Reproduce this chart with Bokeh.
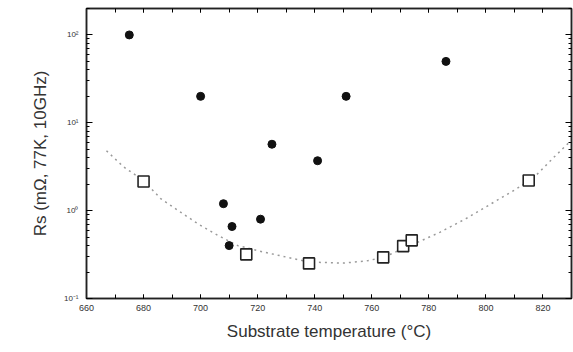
from bokeh.plotting import figure
from bokeh.models import Range1d, LinearAxis, LogAxis, SingleIntervalTicker, LogTicker
from bokeh.embed import file_html
from bokeh.resources import INLINE

# filled circles
dot_temp = [675, 700, 725, 741, 751, 786, 708, 711, 721, 710]
dot_rs = [100, 20, 5.7, 3.7, 20, 50, 1.2, 0.66, 0.80, 0.40]

# open squares
sq_temp = [680, 716, 738, 764, 771, 774, 815]
sq_rs = [2.15, 0.318, 0.251, 0.294, 0.395, 0.459, 2.2]

# dotted guide curve
curve_temp = [667, 673, 680, 686, 692, 699, 706, 713, 722, 738, 750, 758, 764,
              775, 784, 793, 803, 810, 817, 824, 830]
curve_rs = [4.8, 3.15, 2.2, 1.37, 1.01, 0.71, 0.525, 0.40, 0.338, 0.26, 0.253,
            0.267, 0.294, 0.42, 0.57, 0.81, 1.26, 1.71, 2.42, 4.1, 6.35]

x_ticks = [660, 680, 700, 720, 740, 760, 780, 800, 820]
y_ticks = [0.1, 1, 10, 100]
y_tick_labels = {0.1: "10\u207b\u00b9", 1: "10\u2070", 10: "10\u00b9", 100: "10\u00b2"}

TXT = "#333333"
FONT = "Liberation Sans"

p = figure(width=573, height=352, output_backend="svg", toolbar_location=None,
           x_range=Range1d(660, 830), y_range=Range1d(0.1, 200), y_axis_type="log",
           min_border_left=86, min_border_right=2, min_border_top=8, min_border_bottom=54)
p.xgrid.visible = False
p.ygrid.visible = False
p.outline_line_color = "#222222"
p.outline_line_width = 1.5
p.background_fill_color = "white"
p.border_fill_color = "white"

p.line(curve_temp, curve_rs, line_color="#9a9a9a", line_width=1.5, line_dash="2 4")
p.scatter(sq_temp, sq_rs, marker="square", size=11, fill_color="white",
          line_color="#222222", line_width=1.6)
p.scatter(dot_temp, dot_rs, marker="circle", size=8, fill_color="#111111",
          line_color="#111111")

xa = p.xaxis[0]
xa.ticker = SingleIntervalTicker(interval=20, num_minor_ticks=2)
xa.axis_label = "Substrate temperature (\u00b0C)"
xa.axis_label_text_font = FONT
xa.axis_label_text_font_size = "17px"
xa.axis_label_text_font_style = "normal"
xa.axis_label_text_color = TXT
xa.axis_label_standoff = 8
xa.major_label_text_font = FONT
xa.major_label_text_font_size = "9px"
xa.major_label_text_color = TXT
xa.major_label_standoff = 6
xa.major_tick_in = 4
xa.major_tick_out = 0
xa.minor_tick_in = 4
xa.minor_tick_out = 0
xa.axis_line_color = "#222222"
xa.axis_line_width = 1.5

ya = p.yaxis[0]
ya.ticker = LogTicker(num_minor_ticks=10)
ya.major_label_overrides = y_tick_labels
ya.axis_label = "Rs (m\u03a9, 77K, 10GHz)"
ya.axis_label_text_font = FONT
ya.axis_label_text_font_size = "17px"
ya.axis_label_text_font_style = "normal"
ya.axis_label_text_color = TXT
ya.axis_label_standoff = 11
ya.major_label_text_font = FONT
ya.major_label_text_font_size = "8px"
ya.major_label_text_color = TXT
ya.major_label_standoff = 8
ya.major_tick_in = 6
ya.major_tick_out = 0
ya.minor_tick_in = 3
ya.minor_tick_out = 0
ya.axis_line_color = "#222222"
ya.axis_line_width = 1.5

top = LinearAxis(ticker=SingleIntervalTicker(interval=20, num_minor_ticks=2),
                 major_label_text_color=None, major_label_text_font_size="1px",
                 major_label_standoff=0,
                 major_tick_in=4, major_tick_out=0, minor_tick_in=4, minor_tick_out=0,
                 axis_line_color="#222222", axis_line_width=1.5)
p.add_layout(top, "above")
right = LogAxis(ticker=LogTicker(num_minor_ticks=10),
                major_label_text_color=None, major_label_text_font_size="1px",
                major_label_standoff=0,
                major_tick_in=6, major_tick_out=0, minor_tick_in=3, minor_tick_out=0,
                axis_line_color="#222222", axis_line_width=1.5)
p.add_layout(right, "right")

open("out.html", "w").write(file_html(p, INLINE))
